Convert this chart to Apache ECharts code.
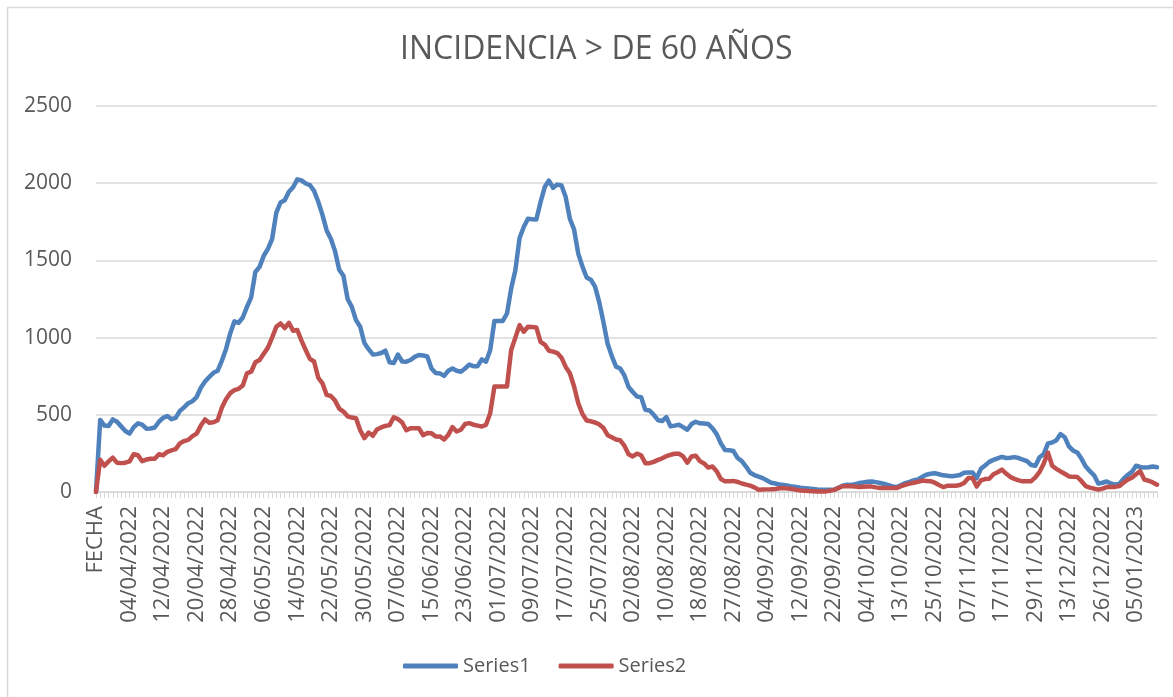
<!DOCTYPE html>
<html>
<head>
<meta charset="utf-8">
<script src="https://cdn.jsdelivr.net/npm/echarts@6/dist/echarts.min.js"></script>
<style>
    html, body { margin: 0; padding: 0; background: #fff; }
    #chart-container { width: 1173px; height: 697px; }
</style>
</head>
<body>
<div id="chart-container"></div>
<script>
// etiquetas visibles del eje x (una cada 8 categorias)
var tickLabels = [
    "FECHA", "04/04/2022", "12/04/2022", "20/04/2022", "28/04/2022", "06/05/2022",
    "14/05/2022", "22/05/2022", "30/05/2022", "07/06/2022", "15/06/2022", "23/06/2022",
    "01/07/2022", "09/07/2022", "17/07/2022", "25/07/2022", "02/08/2022", "10/08/2022",
    "18/08/2022", "27/08/2022", "04/09/2022", "12/09/2022", "22/09/2022", "04/10/2022",
    "13/10/2022", "25/10/2022", "07/11/2022", "17/11/2022", "29/11/2022", "13/12/2022",
    "26/12/2022", "05/01/2023"
];

var series1 = [
    0, 467, 430, 428, 470, 455, 425, 395, 378, 420,
    445, 436, 410, 411, 418, 455, 480, 492, 472, 480,
    525, 548, 575, 588, 615, 675, 715, 745, 772, 785,
    850, 925, 1027, 1105, 1096, 1130, 1199, 1260, 1425, 1458,
    1530, 1575, 1640, 1810, 1875, 1890, 1945, 1974, 2025, 2018,
    1998, 1988, 1950, 1880, 1795, 1694, 1640, 1560, 1440, 1400,
    1250, 1199, 1113, 1070, 965, 925, 891, 893, 900, 915,
    840, 835, 890, 845, 844, 855, 875, 887, 884, 878,
    800, 770, 768, 752, 785, 800, 785, 779, 800, 825,
    815, 815, 859, 844, 919, 1107, 1107, 1108, 1156, 1318,
    1436, 1645, 1716, 1770, 1766, 1765, 1877, 1975, 2017, 1970,
    1991, 1985, 1910, 1770, 1700, 1544, 1460, 1389, 1375, 1330,
    1230, 1100, 960, 880, 812, 800, 755, 680, 648, 618,
    614, 532, 528, 500, 465, 460, 485, 425, 430, 435,
    420, 403, 440, 455, 445, 443, 440, 413, 375, 315,
    272, 270, 265, 220, 200, 165, 125, 110, 100, 90,
    75, 60, 55, 48, 45, 40, 35, 32, 28, 25,
    22, 20, 17, 15, 15, 15, 15, 28, 41, 47,
    45, 50, 58, 62, 66, 68, 64, 58, 52, 44,
    36, 32, 45, 58, 66, 76, 82, 98, 112, 118,
    122, 115, 108, 105, 102, 105, 110, 125, 127, 127,
    90, 150, 172, 195, 208, 218, 228, 220, 222, 226,
    220, 210, 200, 175, 170, 225, 245, 315, 321, 335,
    375, 355, 295, 268, 256, 215, 165, 135, 108, 55,
    60, 68, 55, 48, 52, 85, 110, 130, 170, 162,
    158, 160, 165, 160
];

var series2 = [
    0, 209, 170, 198, 222, 190, 187, 190, 198, 245,
    238, 200, 210, 215, 215, 245, 238, 260, 270, 278,
    315, 330, 338, 362, 378, 430, 470, 448, 452, 465,
    545, 600, 640, 660, 668, 690, 769, 779, 840, 855,
    895, 935, 1000, 1070, 1092, 1062, 1095, 1045, 1049, 980,
    920, 862, 845, 740, 704, 629, 622, 592, 540, 521,
    490, 482, 478, 400, 349, 385, 364, 405, 418, 428,
    433, 484, 472, 450, 400, 413, 413, 413, 368, 382,
    380, 360, 360, 340, 370, 420, 392, 403, 440, 446,
    436, 430, 424, 435, 510, 683, 683, 683, 683, 920,
    1000, 1081, 1038, 1070, 1068, 1066, 973, 955, 915, 909,
    900, 870, 810, 769, 683, 575, 505, 463, 458, 450,
    438, 415, 368, 355, 340, 335, 300, 245, 230, 248,
    238, 187, 187, 195, 208, 218, 232, 241, 248, 248,
    230, 190, 230, 235, 200, 185, 158, 165, 135, 84,
    69, 70, 72, 65, 55, 48, 41, 30, 15, 16,
    17, 18, 20, 24, 26, 22, 19, 14, 10, 8,
    6, 5, 4, 4, 4, 8, 14, 25, 37, 37,
    37, 35, 32, 34, 36, 35, 30, 26, 26, 26,
    26, 26, 38, 47, 54, 60, 66, 74, 72, 70,
    60, 45, 32, 40, 41, 41, 45, 58, 90, 90,
    35, 75, 84, 86, 115, 128, 145, 120, 98, 85,
    75, 69, 69, 70, 95, 130, 185, 255, 170, 150,
    133, 118, 101, 98, 97, 70, 38, 28, 22, 15,
    22, 32, 32, 33, 38, 60, 80, 92, 115, 135,
    80, 73, 62, 47
];

// categorias: la etiqueta cada 8 puntos, dias intermedios entre medias
function buildCategories(n) {
    var cats = [];
    for (var i = 0; i < n; i++) {
        var k = Math.floor(i / 8), j = i % 8;
        if (j === 0 && tickLabels[k]) {
            cats.push(tickLabels[k]);
            continue;
        }
        var base = tickLabels[k];
        if (base === "FECHA") base = "27/03/2022";
        var p = base.split("/");
        var d = new Date(+p[2], +p[1] - 1, +p[0] + j);
        var dd = ("0" + d.getDate()).slice(-2), mm = ("0" + (d.getMonth() + 1)).slice(-2);
        cats.push(dd + "/" + mm + "/" + d.getFullYear());
    }
    return cats;
}

var categories = buildCategories(series1.length);

var chartDom = document.getElementById("chart-container");
var myChart = echarts.init(chartDom, null, { renderer: "canvas" });
var font = "'Open Sans', 'Liberation Sans', sans-serif";
var textColor = "#595959";

var option = {
    animation: false,
    backgroundColor: "#fff",
    title: {
        text: "INCIDENCIA > DE 60 AÑOS",
        left: 395,
        top: 29,
        textStyle: { fontFamily: font, fontSize: 32, fontWeight: "normal", color: textColor },
    },
    graphic: [
        {
            type: "rect",
            shape: { x: 7.5, y: 7.5, width: 1200, height: 720 },
            style: { fill: "none", stroke: "#d9d9d9", lineWidth: 1.5 },
            silent: true,
        },
    ],
    legend: {
        left: 398,
        top: 651,
        icon: "roundRect",
        itemWidth: 55,
        itemHeight: 5,
        itemGap: 28,
        textStyle: { fontFamily: font, fontSize: 20, color: textColor },
        data: ["Series1", "Series2"],
    },
    grid: {
        left: 96,
        right: 16,
        top: 106,
        bottom: 205,
    },
    xAxis: {
        type: "category",
        data: categories,
        boundaryGap: false,
        axisLine: { lineStyle: { color: "#d9d9d9", width: 1.5 } },
        axisTick: { show: true, interval: 0, length: 6, lineStyle: { color: "#d9d9d9", width: 1 } },
        axisLabel: {
            interval: 7,
            rotate: 90,
            margin: 14,
            fontFamily: font,
            fontSize: 22,
            color: textColor,
        },
        splitLine: { show: false },
    },
    yAxis: {
        type: "value",
        min: 0,
        max: 2500,
        interval: 500,
        axisLine: { show: false },
        axisTick: { show: false },
        axisLabel: {
            margin: 24,
            fontFamily: font,
            fontSize: 21,
            color: textColor,
            formatter: function (v) { return String(v); },
        },
        splitLine: { lineStyle: { color: "#d9d9d9", width: 1.5 } },
    },
    series: [
        {
            name: "Series1",
            type: "line",
            data: series1,
            symbol: "none",
            color: "#4f81bd",
            lineStyle: { width: 4.5, color: "#4f81bd", cap: "round", join: "round" },
            z: 3,
        },
        {
            name: "Series2",
            type: "line",
            data: series2,
            symbol: "none",
            color: "#c0504d",
            lineStyle: { width: 4.5, color: "#c0504d", cap: "round", join: "round" },
            z: 4,
        },
    ],
};

myChart.setOption(option);
</script>
</body>
</html>
